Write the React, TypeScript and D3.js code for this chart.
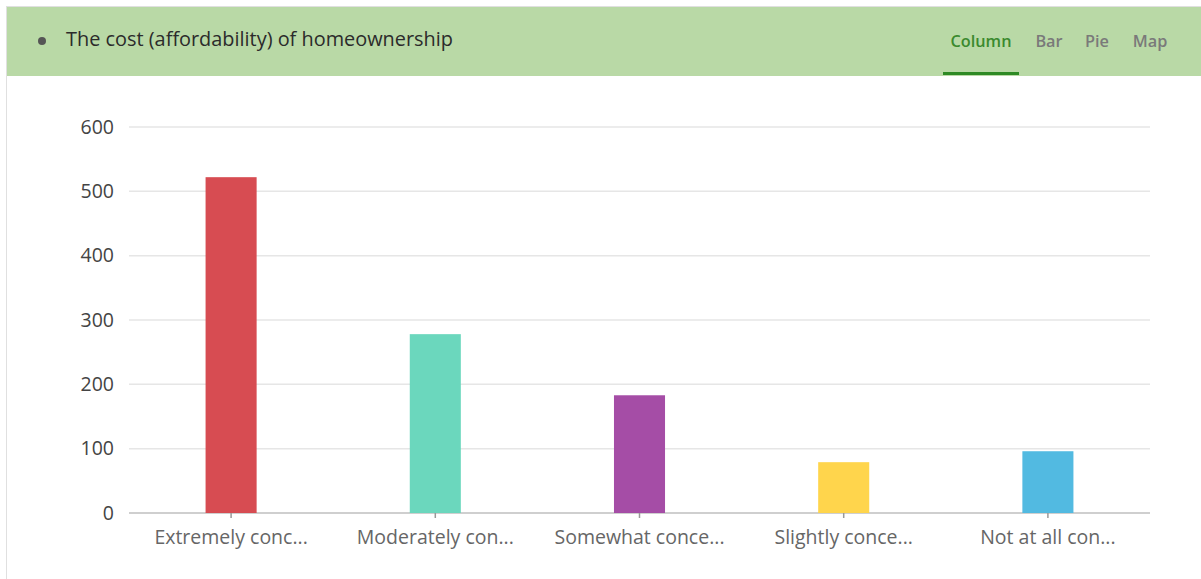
import React from "react";
import * as d3 from "d3";

const categories = ["Extremely conc...", "Moderately con...", "Somewhat conce...", "Slightly conce...", "Not at all con..."];
const values = [522, 278, 183, 79, 96];
const colors = ["#d6464c", "#66d6bb", "#a247a3", "#ffd446", "#4cb8e0"];
const yTicks = [0, 100, 200, 300, 400, 500, 600];
const tabs = ["Column", "Bar", "Pie", "Map"];
const tabX = [981, 1049, 1097, 1150];
const title = "The cost (affordability) of homeownership";

export default function App() {
  const W = 1201, H = 579;
  const x0 = 129, x1 = 1150, yBase = 513, yTop = 127;
  const x = d3.scaleBand<string>().domain(categories).range([x0, x1]).paddingInner(0.75).paddingOuter(0.375);
  const y = d3.scaleLinear().domain([0, 600]).range([yBase, yTop]);
  const font = "'Open Sans', sans-serif";
  return (
    <svg width={W} height={H} style={{ position: "absolute", left: 0, top: 0, display: "block", background: "#fff" }}>
      <rect x={6} y={6} width={W - 6} height={70} fill="#b9d9a6" />
      <line x1={6} x2={W} y1={6.5} y2={6.5} stroke="#e0e0e0" />
      <line x1={6.5} x2={6.5} y1={6} y2={H} stroke="#e0e0e0" />
      <circle cx={42} cy={41} r={4} fill="#555" />
      <text x={66} y={46} fontFamily={font} fontSize={19.9} fill="#2b2b2b">{title}</text>
      {tabs.map((t, i) => (
        <text key={t} x={tabX[i]} y={47} textAnchor="middle" fontFamily={font} fontSize={16.3} fontWeight={600} fill={i === 0 ? "#3b8a2e" : "#7a7a7a"}>{t}</text>
      ))}
      <rect x={943} y={72} width={76} height={3} fill="#2e8a25" />
      {yTicks.map((t) => (
        <g key={t}>
          <line x1={x0} x2={x1} y1={y(t)} y2={y(t)} stroke={t === 0 ? "#cfcfcf" : "#e6e6e6"} strokeWidth={t === 0 ? 2 : 1.5} />
          <text x={114} y={y(t)} dy="0.35em" textAnchor="end" fontFamily={font} fontSize={19.5} fill="#444">{t}</text>
        </g>
      ))}
      {categories.map((c, i) => (
        <g key={c}>
          <rect x={x(c)} y={y(values[i])} width={x.bandwidth()} height={yBase - y(values[i])} fill={colors[i]} fillOpacity={0.97} />
          <line x1={x(c)! + x.bandwidth() / 2} x2={x(c)! + x.bandwidth() / 2} y1={yBase} y2={yBase + 5} stroke="#999" strokeWidth={1.5} />
          <text x={x(c)! + x.bandwidth() / 2} y={544} textAnchor="middle" fontFamily={font} fontSize={19.5} fill="#666">{c}</text>
        </g>
      ))}
    </svg>
  );
}
